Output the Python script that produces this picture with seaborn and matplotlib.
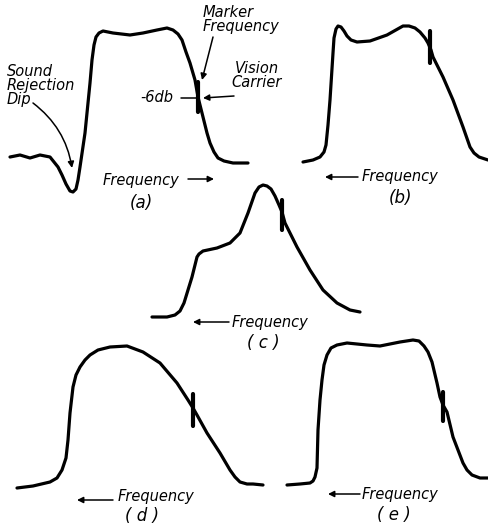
import matplotlib
matplotlib.use("Agg")
import matplotlib.pyplot as plt
import seaborn as sns
import pandas as pd

# ---- curve data (pixel-like coordinates, y downwards) ----
a_x = [10, 20, 30, 40, 50, 58, 62, 66, 70, 73, 76, 78, 80, 85, 90, 92, 94, 96, 99, 103, 113, 130, 143, 157, 167, 173, 178, 182, 186, 190, 195, 198, 202, 207, 210, 214, 218, 224, 233, 248]
a_y = [157, 155, 158, 155, 157, 167, 175, 184, 191, 192, 189, 180, 167, 133, 83, 60, 45, 37, 33, 31, 33, 35, 33, 30, 28, 30, 34, 40, 52, 63, 80, 97, 113, 133, 143, 152, 158, 161, 163, 163]

b_x = [303, 313, 320, 324, 326, 328, 330, 333, 334, 336, 338, 341, 344, 347, 351, 357, 370, 387, 403, 409, 415, 420, 425, 428, 431, 433, 443, 453, 463, 470, 474, 479, 488]
b_y = [162, 160, 157, 152, 145, 125, 100, 53, 38, 29, 26, 27, 31, 36, 40, 42, 41, 35, 26, 26, 28, 32, 38, 43, 50, 57, 77, 100, 127, 147, 153, 157, 160]

c_x = [152, 167, 175, 180, 184, 188, 192, 197, 199, 203, 217, 230, 240, 248, 255, 259, 263, 267, 271, 275, 279, 282, 285, 297, 310, 323, 337, 350, 360]
c_y = [317, 317, 315, 311, 303, 290, 277, 257, 254, 251, 248, 243, 233, 213, 193, 187, 185, 186, 189, 196, 205, 212, 223, 247, 270, 290, 303, 310, 312]

d_x = [17, 33, 50, 57, 62, 66, 68, 70, 73, 76, 80, 85, 90, 98, 110, 127, 143, 160, 177, 188, 193, 197, 207, 220, 230, 235, 240, 247, 253, 263]
d_y = [488, 486, 482, 478, 470, 458, 440, 413, 387, 375, 367, 360, 355, 350, 347, 346, 352, 363, 383, 400, 408, 415, 433, 453, 470, 477, 482, 484, 484, 485]

e_x = [287, 300, 310, 313, 315, 317, 318, 320, 322, 324, 327, 331, 337, 347, 367, 380, 400, 413, 419, 424, 428, 432, 437, 440, 443, 447, 453, 463, 467, 472, 480, 489]
e_y = [485, 484, 483, 481, 477, 468, 430, 400, 380, 365, 355, 348, 345, 343, 345, 346, 342, 340, 341, 346, 352, 362, 383, 397, 405, 412, 437, 463, 470, 475, 478, 478]

# marker pips: x position, top, bottom
marker_x = [198, 430, 282, 193, 443]
marker_top = [82, 31, 200, 394, 392]
marker_bot = [112, 63, 230, 426, 421]

panel_labels = ["(a)", "(b)", "( c )", "( d )", "( e )"]
panel_label_x = [141, 400, 263, 142, 394]
panel_label_y = [203, 198, 343, 516, 515]

freq_text_x = [103, 362, 232, 118, 362]
freq_text_y = [180, 177, 322, 497, 494]
freq_arrow_from = [188, 358, 229, 113, 360]
freq_arrow_to = [214, 325, 193, 77, 328]
freq_arrow_y = [179, 177, 322, 500, 494]

# ---- drawing ----
sns.set_theme(style="white")
plt.rcParams['font.family'] = ['DejaVu Sans']

fig = plt.figure(figsize=(4.89, 5.25), dpi=100)
ax = fig.add_axes([0, 0, 1, 1])
ax.set_xlim(0, 489)
ax.set_ylim(525, 0)
ax.axis("off")

curves = [(a_x, a_y), (b_x, b_y), (c_x, c_y), (d_x, d_y), (e_x, e_y)]
for cx, cy in curves:
    df = pd.DataFrame({"f": cx, "r": cy})
    sns.lineplot(data=df, x="f", y="r", sort=False, estimator=None,
                 color="black", linewidth=2.3, ax=ax)
for line in ax.lines:
    line.set_solid_joinstyle("round")
    line.set_solid_capstyle("round")

for mx, t, b in zip(marker_x, marker_top, marker_bot):
    mdf = pd.DataFrame({"f": [mx, mx], "r": [t, b]})
    sns.lineplot(data=mdf, x="f", y="r", sort=False, estimator=None,
                 color="black", linewidth=3.0, ax=ax)

ax.set_xlim(0, 489)
ax.set_ylim(525, 0)
ax.set_xlabel("")
ax.set_ylabel("")

tk = dict(style="italic", fontsize=10.5, color="black")

for lbl, x, y in zip(panel_labels, panel_label_x, panel_label_y):
    ax.text(x, y, lbl, ha="center", va="center", style="italic", fontsize=12, color="black")

for tx, ty, af, at, ay in zip(freq_text_x, freq_text_y, freq_arrow_from, freq_arrow_to, freq_arrow_y):
    ax.text(tx, ty, "Frequency", ha="left", va="center", **tk)
    ax.annotate("", xy=(at, ay), xytext=(af, ay),
                arrowprops=dict(arrowstyle="-|>", color="black", lw=1.1,
                                mutation_scale=9, shrinkA=0, shrinkB=0))

# annotations of panel (a)
ax.text(7, 64, "Sound\nRejection\nDip", ha="left", va="top", linespacing=0.92, **tk)
ax.annotate("", xy=(72, 168), xytext=(33, 103),
            arrowprops=dict(arrowstyle="-|>", color="black", lw=1.1, mutation_scale=9,
                            shrinkA=0, shrinkB=0, connectionstyle="arc3,rad=-0.2"))

ax.text(203, 5, "Marker\nFrequency", ha="left", va="top", linespacing=0.92, **tk)
ax.annotate("", xy=(202, 80), xytext=(213, 37),
            arrowprops=dict(arrowstyle="-|>", color="black", lw=1.1, mutation_scale=9,
                            shrinkA=0, shrinkB=0))

ax.text(257, 61, "Vision\nCarrier", ha="center", va="top", linespacing=0.92, **tk)
ax.annotate("", xy=(203, 98), xytext=(234, 96),
            arrowprops=dict(arrowstyle="-|>", color="black", lw=1.1, mutation_scale=9,
                            shrinkA=0, shrinkB=0))

ax.text(140, 98, "-6db", ha="left", va="center", **tk)
ax.annotate("", xy=(197, 98), xytext=(181, 98),
            arrowprops=dict(arrowstyle="-", color="black", lw=1.1, shrinkA=0, shrinkB=0))

fig.savefig("out.png", dpi=100, facecolor="white")
